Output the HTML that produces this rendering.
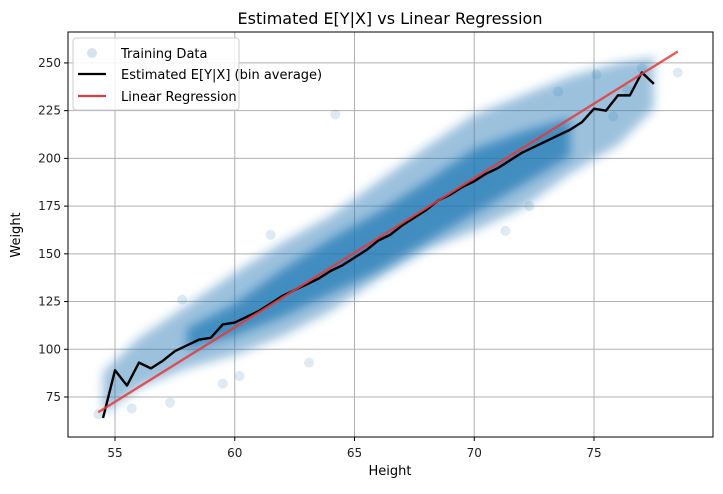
<!DOCTYPE html>
<html><head><meta charset="utf-8"><style>
body{margin:0;background:#fff;font-family:"Liberation Sans","DejaVu Sans",sans-serif}
svg text{font-family:"DejaVu Sans","Liberation Sans",sans-serif}
</style></head><body>
<svg id="c" width="723" height="489" xmlns="http://www.w3.org/2000/svg"><defs><filter id="bl" x="-20%" y="-20%" width="140%" height="140%"><feGaussianBlur stdDeviation="5"/></filter></defs></svg>
<script>
const xTicks=[55,60,65,70,75];
const yTicks=[75,100,125,150,175,200,225,250];
const binX=[54.5,55,55.5,56,56.5,57,57.5,58,58.5,59,59.5,60,60.5,61,61.5,62,62.5,63,63.5,64,64.5,65,65.5,66,66.5,67,67.5,68,68.5,69,69.5,70,70.5,71,71.5,72,72.5,73,73.5,74,74.5,75,75.5,76,76.5,77,77.5];
const binY=[64,89,81,93,90,94,99,102,105,106,113,114,117,120,124,128,131,134,137,141,144,148,152,157,160,165,169,173,178,181,185,188,192,195,199,203,206,209,212,215,219,226,225,233,233,245,239];
const regX=[54.3,78.5];
const regY=[67,256];
const bandX=[54.5,56,58,60,62,64,66,68,70,72,74,76,77.5];
const outerLow=[66,80,90,97,107,120,137,152,162,174,192,207,226];
const outerHigh=[88,106,123,140,156,170,188,206,223,233,243,250,253];
const innerX=[58,60,62,64,66,68,70,72,74];
const innerLow=[100,107,117,129,141,156,171,186,201];
const innerHigh=[111,124,142,158,172,188,205,214,221];
const outX=[54.3,55.7,57.3,57.8,60.2,63.1,64.2,71.3,75.1,76.4,77,78.5,75.8,59.5,61.5,72.3,73.5];
const outY=[66,69,72,126,86,93,223,162,244,236,247,245,222,82,160,175,235];
const NS="http://www.w3.org/2000/svg";
const svg=document.getElementById('c');
const L=68,R=713,T=32,B=437;
const sx=v=>115+(v-55)*23.95;
const sy=v=>397-(v-75)*1.909;
function el(t,a,p){const e=document.createElementNS(NS,t);for(const k in a)e.setAttribute(k,a[k]);(p||svg).appendChild(e);return e;}
xTicks.forEach(v=>{const g=el('line',{x1:sx(v),x2:sx(v),y1:T,y2:B,stroke:'#b0b0b0','stroke-width':1});


const t=el('text',{x:sx(v),y:B+20,'text-anchor':'middle','font-size':12,fill:'#222'});t.textContent=v;


el('line',{x1:sx(v),x2:sx(v),y1:B,y2:B+4,stroke:'#000'});});
yTicks.forEach(v=>{const g=el('line',{x1:L,x2:R,y1:sy(v),y2:sy(v),stroke:'#b0b0b0','stroke-width':1});


const t=el('text',{x:L-7,y:sy(v)+4,'text-anchor':'end','font-size':12,fill:'#222'});t.textContent=v;


el('line',{x1:L-4,x2:L,y1:sy(v),y2:sy(v),stroke:'#000'});});
function band(xs,lo,hi,op,name){let d='M';xs.forEach((x,i)=>d+=sx(x)+','+sy(hi[i])+' L');
for(let i=xs.length-1;i>=0;i--)d+=sx(xs[i])+','+sy(lo[i])+(i?' L':' Z');
const p=el('path',{d:d,fill:'#1f77b4','fill-opacity':op,filter:'url(#bl)'});

}
band(bandX,outerLow,outerHigh,0.45,'scatter-cloud-outer');
band(innerX,innerLow,innerHigh,0.7,'scatter-cloud-core');
outX.forEach((x,i)=>{const c=el('circle',{cx:sx(x),cy:sy(outY[i]),r:5,fill:'#1f77b4','fill-opacity':0.15});

});
const bl=el('polyline',{points:binX.map((x,i)=>sx(x)+','+sy(binY[i])).join(' '),fill:'none',stroke:'#000','stroke-width':2.4,'stroke-linejoin':'round'});


const rl=el('line',{x1:sx(regX[0]),y1:sy(regY[0]),x2:sx(regX[1]),y2:sy(regY[1]),stroke:'#e8393a','stroke-opacity':0.85,'stroke-width':2.4});


const fr=el('rect',{x:L,y:T,width:R-L,height:B-T,fill:'none',stroke:'#000','stroke-width':1});


</script>
<svg width="723" height="489" style="position:absolute;left:0;top:0" xmlns="http://www.w3.org/2000/svg">
<text x="390" y="24" text-anchor="middle" font-size="16" fill="#000">Estimated E[Y|X] vs Linear Regression</text>
<text x="390" y="475" text-anchor="middle" font-size="13" fill="#000">Height</text>
<text transform="translate(20,235) rotate(-90)" text-anchor="middle" font-size="13" fill="#000">Weight</text>
<g>
<rect x="73" y="38" width="166" height="72" rx="3" fill="#fff" fill-opacity="0.85" stroke="#ccc"/>
<circle cx="92" cy="53" r="5" fill="#1f77b4" fill-opacity="0.2"/>
<text x="121" y="58" font-size="13" fill="#000">Training Data</text>
<line x1="78" y1="74" x2="106" y2="74" stroke="#000" stroke-width="2.2"/>
<text x="121" y="79" font-size="13" fill="#000">Estimated E[Y|X] (bin average)</text>
<line x1="78" y1="96" x2="106" y2="96" stroke="#e8393a" stroke-width="2.2"/>
<text x="121" y="101" font-size="13" fill="#000">Linear Regression</text>
</g>
</svg>
</body></html>
